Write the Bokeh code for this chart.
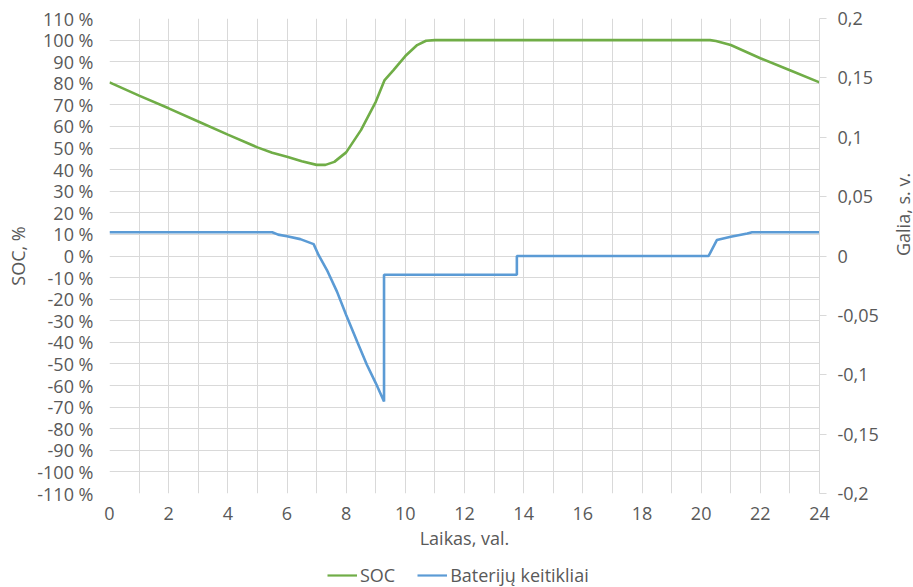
import math
from bokeh.plotting import figure
from bokeh.layouts import column
from bokeh.models import (Range1d, LinearAxis, FixedTicker, CustomJSTickFormatter,
                          Legend, LegendItem)
from bokeh.embed import file_html
from bokeh.resources import INLINE

# ---- data ----
soc_hours = [0, 1, 2, 3, 4, 5, 5.5, 6, 6.5, 7, 7.3, 7.6, 8, 8.5, 9, 9.3, 9.6,
             10, 10.4, 10.7, 11, 20.3, 20.5, 21, 22, 23, 24]
soc_pct = [80.4, 74.3, 68.4, 62.3, 56.2, 50.3, 47.8, 46.0, 43.9, 42.2, 42.2, 43.6,
           48.0, 58.3, 71.4, 81.5, 86.1, 92.6, 97.7, 99.7, 100, 100, 99.6, 97.7,
           91.6, 86.0, 80.4]

bat_hours = [0, 5.5, 5.7, 6.0, 6.45, 6.9, 7.07, 7.35, 7.69, 8.0, 8.37, 8.7, 9.0,
             9.28, 9.28, 13.77, 13.77, 20.25, 20.53, 21.0, 21.56, 21.72, 24]
bat_power = [0.02, 0.02, 0.018, 0.0167, 0.0142, 0.010, 0.0007, -0.0118, -0.030,
             -0.0496, -0.072, -0.0916, -0.107, -0.1225, -0.0158, -0.0158, 0.0,
             0.0, 0.0134, 0.0162, 0.0189, 0.02, 0.02]

x_ticks = [0, 2, 4, 6, 8, 10, 12, 14, 16, 18, 20, 22, 24]
left_ticks = list(range(-110, 111, 10))
right_ticks = [-0.2, -0.15, -0.1, -0.05, 0, 0.05, 0.1, 0.15, 0.2]

x_title = "Laikas, val."
left_title = "SOC, %"
right_title = "Galia, s. v."
soc_name = "SOC"
bat_name = "Baterijų keitikliai"

# ---- style ----
FONT = "Open Sans"
TXT = "#595959"
GRID = "#d9d9d9"
GREEN = "#70AD47"
BLUE = "#5B9BD5"
FS = "18px"

p = figure(frame_width=710, frame_height=475, output_backend="svg",
           toolbar_location=None, x_range=Range1d(0, 24),
           y_range=Range1d(-110, 110),
           min_border_left=109, min_border_right=94, min_border_top=18,
           min_border_bottom=62)
p.outline_line_color = None
p.background_fill_color = "white"
p.border_fill_color = "white"

p.extra_y_ranges = {"power": Range1d(-0.2, 0.2)}

p.xgrid.ticker = FixedTicker(ticks=list(range(0, 25)))
p.xgrid.grid_line_color = GRID
p.ygrid.ticker = FixedTicker(ticks=left_ticks)
p.ygrid.grid_line_color = GRID

xa = p.xaxis[0]
xa.ticker = FixedTicker(ticks=x_ticks)
xa.axis_line_color = None
xa.major_tick_line_color = None
xa.minor_tick_line_color = None
xa.major_label_standoff = 7
xa.axis_label = x_title
xa.axis_label_standoff = 3

ya = p.yaxis[0]
ya.ticker = FixedTicker(ticks=left_ticks)
ya.formatter = CustomJSTickFormatter(code="return Math.round(tick) + ' %';")
ya.axis_line_color = None
ya.major_tick_line_color = None
ya.minor_tick_line_color = None
ya.major_label_standoff = 10
ya.axis_label = left_title
ya.axis_label_standoff = 4

ra = LinearAxis(y_range_name="power")
ra.ticker = FixedTicker(ticks=right_ticks)
ra.formatter = CustomJSTickFormatter(
    code="var v = Math.round(tick*100)/100; if (v === 0) return '0'; return v.toString().replace('.', ',');")
ra.axis_line_color = GRID
ra.major_tick_line_color = GRID
ra.major_tick_in = 0
ra.major_tick_out = 7
ra.minor_tick_line_color = None
ra.major_label_standoff = 11
ra.axis_label = right_title
ra.axis_label_standoff = 21
if "axis_label_orientation" in ra.properties():
    ra.axis_label_orientation = math.pi / 2
p.add_layout(ra, "right")

for ax in [xa, ya, ra]:
    ax.major_label_text_font = FONT
    ax.major_label_text_font_size = FS
    ax.major_label_text_color = TXT
    ax.axis_label_text_font = FONT
    ax.axis_label_text_font_size = FS
    ax.axis_label_text_color = TXT
    ax.axis_label_text_font_style = "normal"

p.line(soc_hours, soc_pct, line_color=GREEN, line_width=2.6)
p.line(bat_hours, bat_power, line_color=BLUE, line_width=2.6,
       y_range_name="power")

# ---- legend strip below the chart (its frame aligns with the chart frame) ----
lf = figure(width=913, height=32, output_backend="svg", toolbar_location=None,
            x_axis_type=None, y_axis_type=None,
            x_range=Range1d(0, 1), y_range=Range1d(0, 1),
            min_border_left=0, min_border_right=0, min_border_top=0,
            min_border_bottom=0)
lf.outline_line_color = None
lf.background_fill_color = "white"
lf.border_fill_color = "white"
# legend-key renderers, kept outside the strip's visible range
lg1 = lf.line(x=[-5, -4], y=[-5, -4], line_color=GREEN, line_width=2.2)
lg2 = lf.line(x=[-5, -4], y=[-5, -4], line_color=BLUE, line_width=2.2)

legend = Legend(items=[LegendItem(label=soc_name, renderers=[lg1]),
                       LegendItem(label=bat_name, renderers=[lg2])],
                orientation="horizontal", location=(218, 0))
legend.border_line_color = None
legend.background_fill_alpha = 0
legend.label_text_font = FONT
legend.label_text_font_size = FS
legend.label_text_color = TXT
legend.glyph_width = 30
legend.label_standoff = 3
legend.spacing = 22
legend.padding = 0
legend.margin = 0
lf.add_layout(legend)

layout = column(p, lf, spacing=0)
open("out.html", "w").write(file_html(layout, INLINE))
